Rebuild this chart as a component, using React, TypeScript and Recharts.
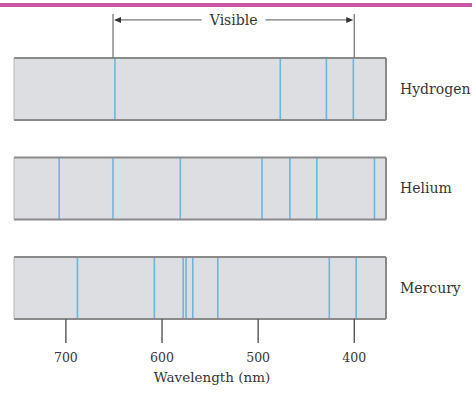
import { ComposedChart, XAxis, YAxis, ReferenceArea, ReferenceLine, Label, Scatter } from 'recharts'

// emission lines, wavelength in nm
const elements = ['Hydrogen', 'Helium', 'Mercury']
const hydrogenLines = [649, 477, 429, 401]
const heliumLines = [707, 651, 581, 496, 467, 439, 379]
const mercuryLines = [688, 608, 578, 575, 568, 542, 426, 398]
const visibleRange = [651, 400]
const wavelengthTicks = [700, 600, 500, 400]
const wavelengthDomain = [367, 754]

const spectra = [hydrogenLines, heliumLines, mercuryLines]

const BAND_H = 0.623
const BRACKET_TOP = -0.442
const ARROW_Y = -0.382
const FONT = '"DejaVu Serif", "Liberation Serif", serif'
const TEXT = '#363636'
const LINE_BLUE = '#6bb6e0'
const EDGE = '#8a8a8a'

const linePoints = spectra.flatMap((lines, i) => lines.map((w) => ({ x: w, y: i + BAND_H / 2 })))

const VisibleBracket = (props: any) => {
  const { x1, x2, y1 } = props
  const left = Math.min(x1, x2)
  const right = Math.max(x1, x2)
  const mid = (left + right) / 2
  const gap = 32
  return (
    <g>
      <line x1={left + 5} y1={y1} x2={mid - gap} y2={y1} stroke="#7a7a7a" strokeWidth={1.3} />
      <line x1={mid + gap} y1={y1} x2={right - 5} y2={y1} stroke="#7a7a7a" strokeWidth={1.3} />
      <polygon points={`${left + 1},${y1} ${left + 8},${y1 - 3} ${left + 8},${y1 + 3}`} fill="#333" />
      <polygon points={`${right - 1},${y1} ${right - 8},${y1 - 3} ${right - 8},${y1 + 3}`} fill="#333" />
      <text x={mid} y={y1 + 5} textAnchor="middle" fontFamily={FONT} fontSize={14} fill={TEXT}>
        Visible
      </text>
    </g>
  )
}

export default function App() {
  const [lo, hi] = wavelengthDomain
  return (
    <div style={{ position: 'absolute', left: 0, top: 0, width: 472, height: 397, background: '#fff' }}>
      <div style={{ position: 'absolute', left: 0, top: 3, width: 472, height: 4, background: '#cc56a6' }} />
      <ComposedChart width={472} height={397} margin={{ top: 14, right: 0, bottom: 0, left: 14 }}>
        <XAxis
          type="number"
          dataKey="x"
          domain={wavelengthDomain}
          allowDataOverflow
          reversed
          ticks={wavelengthTicks}
          axisLine={false}
          tickSize={24}
          tickMargin={10}
          height={78}
          tickLine={{ stroke: '#555', strokeWidth: 1.4 }}
          tick={{ fill: TEXT, fontFamily: FONT, fontSize: 12.5 }}
          interval={0}
        >
          <Label
            value="Wavelength (nm)"
            position="insideBottom"
            offset={15}
            dx={12}
            fill={TEXT}
            fontFamily={FONT}
            fontSize={13.5}
          />
        </XAxis>
        <YAxis
          type="number"
          dataKey="y"
          orientation="right"
          domain={[BRACKET_TOP, 2 + BAND_H]}
          allowDataOverflow
          reversed
          width={86}
          ticks={elements.map((_, i) => i + BAND_H / 2)}
          tickFormatter={(v: number) => elements[Math.floor(v)] ?? ''}
          axisLine={false}
          tickLine={false}
          tickMargin={8}
          tick={{ fill: TEXT, fontFamily: FONT, fontSize: 14, textAnchor: 'start' }}
          interval={0}
        />
        {elements.map((name, i) => (
          <ReferenceArea
            key={name}
            x1={lo}
            x2={hi}
            y1={i}
            y2={i + BAND_H}
            fill="#dcdee1"
            fillOpacity={1}
            stroke="none"
          />
        ))}
        {spectra.map((lines, i) =>
          lines.map((w, j) => (
            <ReferenceLine
              key={`${i}-${j}`}
              segment={[
                { x: w, y: i },
                { x: w, y: i + BAND_H },
              ]}
              stroke={LINE_BLUE}
              strokeWidth={1.6}
            />
          ))
        )}
        {elements.map((name, i) => (
          <ReferenceLine key={`t${name}`} segment={[{ x: hi, y: i }, { x: lo, y: i }]} stroke={EDGE} strokeWidth={2} />
        ))}
        {elements.map((name, i) => (
          <ReferenceLine
            key={`b${name}`}
            segment={[{ x: hi, y: i + BAND_H }, { x: lo, y: i + BAND_H }]}
            stroke={EDGE}
            strokeWidth={2}
          />
        ))}
        {elements.map((name, i) => (
          <ReferenceLine key={`r${name}`} segment={[{ x: lo, y: i }, { x: lo, y: i + BAND_H }]} stroke={EDGE} strokeWidth={2} />
        ))}
        {elements.map((name, i) => (
          <ReferenceLine key={`l${name}`} segment={[{ x: hi, y: i }, { x: hi, y: i + BAND_H }]} stroke="#b4b4b4" strokeWidth={1} />
        ))}
        {visibleRange.map((w) => (
          <ReferenceLine
            key={`v${w}`}
            segment={[
              { x: w, y: BRACKET_TOP },
              { x: w, y: 0 },
            ]}
            stroke="#7a7a7a"
            strokeWidth={1.3}
          />
        ))}
        <ReferenceLine
          segment={[
            { x: visibleRange[0], y: ARROW_Y },
            { x: visibleRange[1], y: ARROW_Y },
          ]}
          shape={VisibleBracket}
        />
        <Scatter data={linePoints} fill="none" shape={() => <g />} isAnimationActive={false} />
      </ComposedChart>
    </div>
  )
}
